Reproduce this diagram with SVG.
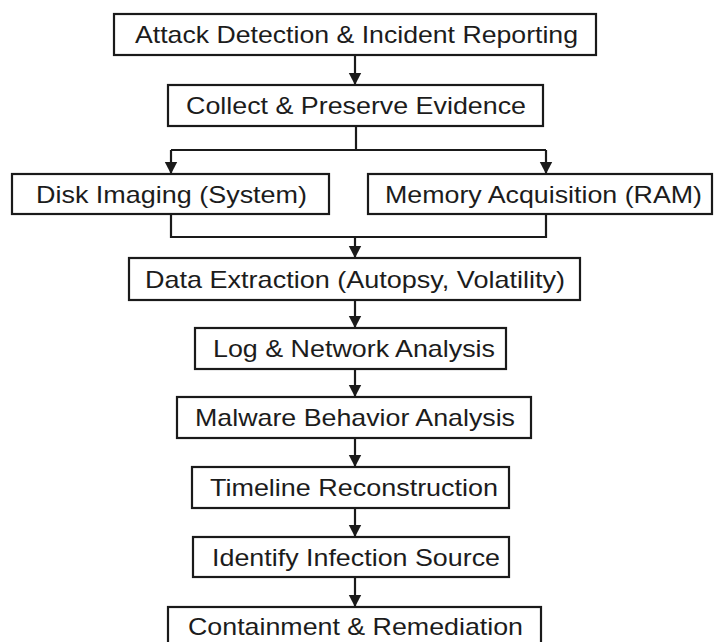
<svg xmlns="http://www.w3.org/2000/svg" width="715" height="642" viewBox="0 0 715 642">
  <style>
    .box { fill: #ffffff; stroke: #1a1a1a; stroke-width: 2.2; }
    .lbl { font-family: "Liberation Sans", Arial, sans-serif; font-size: 24px; fill: #1c1c1c; text-anchor: start; }
    .wire { fill: none; stroke: #1a1a1a; stroke-width: 2.2; }
  </style>
  <defs>
    <marker id="arrow" markerUnits="userSpaceOnUse" markerWidth="13" markerHeight="14" refX="12" refY="7" orient="auto">
      <path d="M0,0.8 L12,7 L0,13.2 z" fill="#1a1a1a"/>
    </marker>
  </defs>
  <rect width="715" height="642" fill="#ffffff"/>

  <!-- connectors -->
  <g id="connectors">
    <line class="wire" x1="355" y1="55" x2="355" y2="85" marker-end="url(#arrow)"/>
    <polyline class="wire" points="356,126 356,150"/>
    <polyline class="wire" points="171,150 546,150"/>
    <line class="wire" x1="171" y1="150" x2="171" y2="174" marker-end="url(#arrow)"/>
    <line class="wire" x1="546" y1="150" x2="546" y2="174" marker-end="url(#arrow)"/>
    <polyline class="wire" points="171,214 171,237 546,237 546,214"/>
    <line class="wire" x1="355" y1="237" x2="355" y2="258" marker-end="url(#arrow)"/>
    <line class="wire" x1="355" y1="300" x2="355" y2="328" marker-end="url(#arrow)"/>
    <line class="wire" x1="355" y1="369" x2="355" y2="397" marker-end="url(#arrow)"/>
    <line class="wire" x1="355" y1="438" x2="355" y2="467" marker-end="url(#arrow)"/>
    <line class="wire" x1="355" y1="508" x2="355" y2="537" marker-end="url(#arrow)"/>
    <line class="wire" x1="355" y1="577" x2="355" y2="607" marker-end="url(#arrow)"/>
  </g>

  <g id="detect">
    <rect class="box" x="114" y="14" width="482" height="41"/>
    <text class="lbl" x="135" y="43" textLength="443" lengthAdjust="spacingAndGlyphs">Attack Detection &amp; Incident Reporting</text>
  </g>
  <g id="collect">
    <rect class="box" x="168" y="85" width="375" height="41"/>
    <text class="lbl" x="186" y="114" textLength="340" lengthAdjust="spacingAndGlyphs">Collect &amp; Preserve Evidence</text>
  </g>
  <g id="disk">
    <rect class="box" x="12" y="174" width="317" height="40"/>
    <text class="lbl" x="36" y="203" textLength="271" lengthAdjust="spacingAndGlyphs">Disk Imaging (System)</text>
  </g>
  <g id="memory">
    <rect class="box" x="368" y="174" width="344" height="40"/>
    <text class="lbl" x="385" y="203" textLength="317" lengthAdjust="spacingAndGlyphs">Memory Acquisition (RAM)</text>
  </g>
  <g id="extract">
    <rect class="box" x="129" y="258" width="451" height="42"/>
    <text class="lbl" x="145" y="288" textLength="420" lengthAdjust="spacingAndGlyphs">Data Extraction (Autopsy, Volatility)</text>
  </g>
  <g id="logs">
    <rect class="box" x="195" y="328" width="311" height="41"/>
    <text class="lbl" x="213" y="357" textLength="282" lengthAdjust="spacingAndGlyphs">Log &amp; Network Analysis</text>
  </g>
  <g id="malware">
    <rect class="box" x="177" y="397" width="354" height="41"/>
    <text class="lbl" x="195" y="426" textLength="320" lengthAdjust="spacingAndGlyphs">Malware Behavior Analysis</text>
  </g>
  <g id="timeline">
    <rect class="box" x="192" y="467" width="317" height="41"/>
    <text class="lbl" x="210" y="496" textLength="288" lengthAdjust="spacingAndGlyphs">Timeline Reconstruction</text>
  </g>
  <g id="source">
    <rect class="box" x="193" y="537" width="316" height="40"/>
    <text class="lbl" x="212" y="566" textLength="288" lengthAdjust="spacingAndGlyphs">Identify Infection Source</text>
  </g>
  <g id="contain">
    <rect class="box" x="168" y="607" width="373" height="44"/>
    <text class="lbl" x="188" y="635" textLength="335" lengthAdjust="spacingAndGlyphs">Containment &amp; Remediation</text>
  </g>
</svg>
